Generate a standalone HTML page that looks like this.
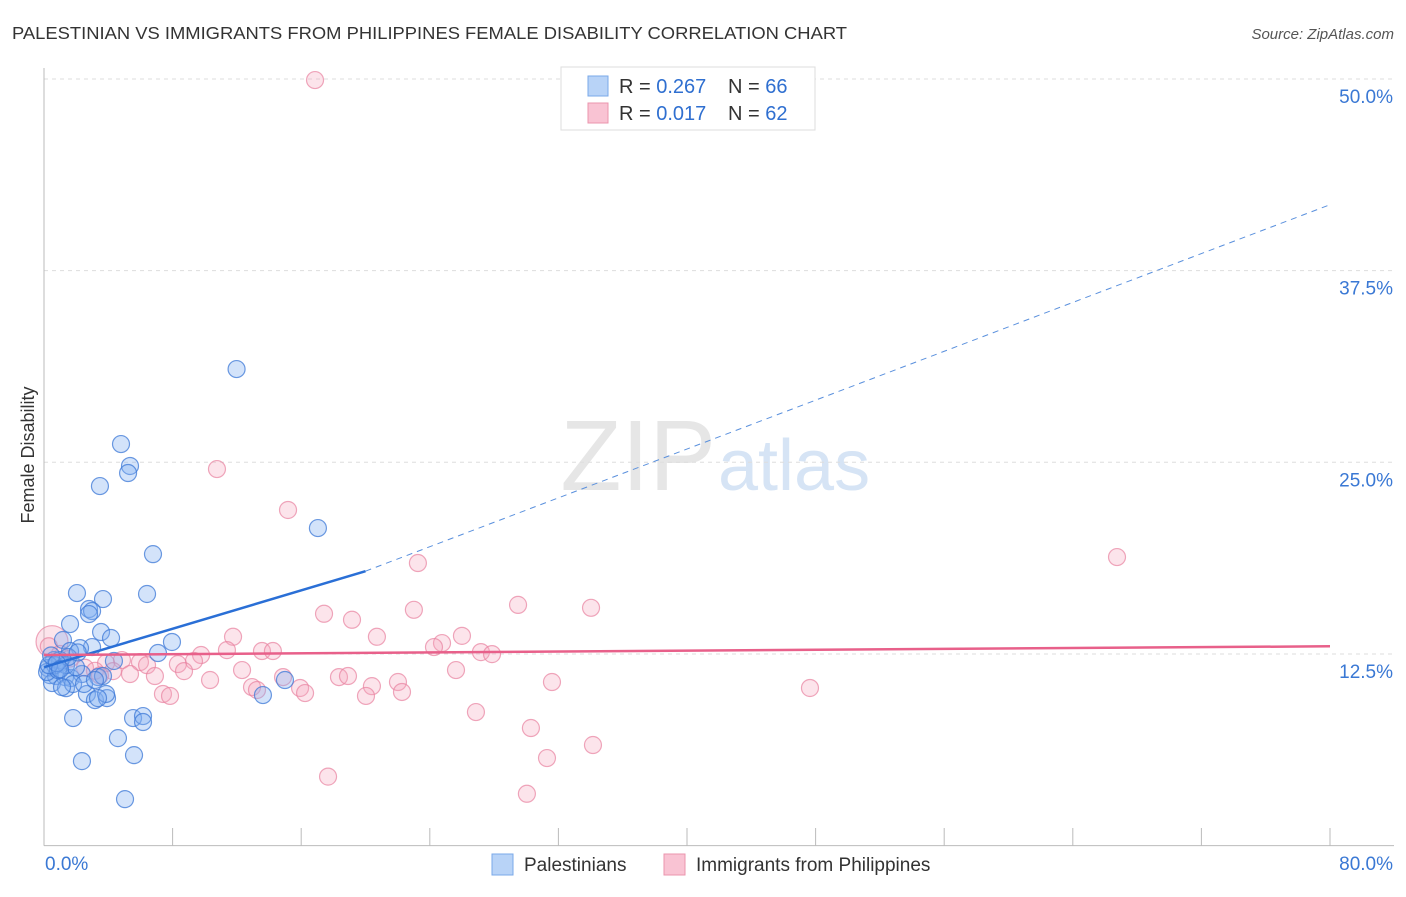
<!DOCTYPE html>
<html><head><meta charset="utf-8"><style>
body{margin:0;background:#fff;font-family:"Liberation Sans",sans-serif;}
svg text{font-family:"Liberation Sans",sans-serif;}
</style></head><body>
<svg id="chart" width="1406" height="892" xmlns="http://www.w3.org/2000/svg">
<text x="12" y="39" font-size="17.5" fill="#333" textLength="835" lengthAdjust="spacingAndGlyphs">PALESTINIAN VS IMMIGRANTS FROM PHILIPPINES FEMALE DISABILITY CORRELATION CHART</text>
<text x="1394" y="39" font-size="15" fill="#555" font-style="italic" text-anchor="end">Source: ZipAtlas.com</text>
<text x="716" y="490" font-size="100" fill="#e6e6e6" text-anchor="end" font-family="Liberation Serif">ZIP</text>
<text x="718" y="490" font-size="72" fill="#d6e4f5">atlas</text>
<text transform="translate(34,455) rotate(-90)" font-size="18" fill="#333" text-anchor="middle">Female Disability</text>
<g id="grid"></g><g id="axes"></g><g id="pts"></g><g id="trend"></g>
<g>
<rect x="561" y="67" width="254" height="63" fill="#fff" stroke="#ddd"/>
<rect x="588" y="76" width="20" height="20" fill="#b8d3f7" stroke="#7aa8e8"/>
<rect x="588" y="103" width="20" height="20" fill="#f9c3d3" stroke="#eb94ae"/>
<text x="619" y="93" font-size="20" fill="#333">R = <tspan fill="#2f6fd0">0.267</tspan></text>
<text x="728" y="93" font-size="20" fill="#333">N = <tspan fill="#2f6fd0">66</tspan></text>
<text x="619" y="120" font-size="20" fill="#333">R = <tspan fill="#2f6fd0">0.017</tspan></text>
<text x="728" y="120" font-size="20" fill="#333">N = <tspan fill="#2f6fd0">62</tspan></text>
</g>
<g>
<rect x="492" y="854" width="21" height="21" fill="#b8d3f7" stroke="#7aa8e8"/>
<text x="524" y="871" font-size="19" fill="#333">Palestinians</text>
<rect x="664" y="854" width="21" height="21" fill="#f9c3d3" stroke="#eb94ae"/>
<text x="696" y="871" font-size="19" fill="#333">Immigrants from Philippines</text>
</g>
</svg>
<script>
const yTicks=[12.5,25,37.5,50];
const yTickLabels=["12.5%","25.0%","37.5%","50.0%"];
const xTicks=[0,8,16,24,32,40,48,56,64,72,80];
const blueX=[11.98,4.79,5.35,5.23,3.48,17.04,6.78,2.05,6.41,3.67,2.8,2.99,2.8,1.62,3.55,4.17,1.18,2.99,7.96,7.09,2.24,1.62,0.62,0.99,0.25,0.37,0.75,1.31,1.68,2.36,3.36,3.67,4.35,0.5,1.37,1.81,2.67,3.17,3.92,3.86,3.36,1.12,13.62,14.99,1.81,5.54,6.16,6.16,4.6,5.6,2.36,5.04,0.99,0.68,0.19,1.37,1.99,0.87,0.31,2.49,3.17,0.44,1.5,2.1,0.8,1.0];
const blueY=[31.08,26.19,24.76,24.3,23.45,20.71,19.01,16.47,16.41,16.08,15.43,15.3,15.1,14.45,13.93,13.54,13.41,12.95,13.28,12.56,12.88,12.69,12.1,11.9,11.58,11.12,11.06,10.99,10.93,11.19,10.99,11.06,12.04,10.6,10.27,10.54,9.89,9.49,9.62,9.89,9.62,10.34,9.82,10.8,8.32,8.32,8.45,8.06,7.01,5.9,5.51,3.03,12.1,11.77,11.32,11.77,11.64,11.45,11.77,10.54,10.8,12.4,12.3,12.6,11.9,11.5];
const pinkX=[16.86,10.76,15.18,23.26,66.75,29.49,34.03,23.01,17.42,19.16,11.76,20.71,26,24.76,24.26,27.18,27.87,13.56,14.24,11.38,9.77,9.33,8.33,8.71,5.97,6.41,4.85,3.86,4.29,5.35,6.9,12.32,14.87,18.35,18.91,22.02,20.4,25.63,31.6,47.65,10.33,12.94,13.25,15.93,16.24,20.03,22.27,7.4,7.84,26.87,30.29,31.29,34.15,17.67,30.04,0.5,0.99,2.55,3.17,1.62,3.48,0.3];
const pinkY=[49.93,24.56,21.89,18.43,18.82,15.7,15.51,15.38,15.12,14.73,13.62,13.62,13.68,13.21,12.95,12.62,12.49,12.69,12.69,12.75,12.43,12.04,11.84,11.38,11.97,11.77,12.1,11.9,11.38,11.19,11.06,11.45,10.99,10.99,11.06,10.67,10.4,11.45,10.67,10.28,10.8,10.34,10.15,10.28,9.95,9.76,10.02,9.89,9.76,8.71,7.67,5.71,6.56,4.5,3.38,13.3,12.5,11.6,11.4,12.2,11.1,13.0];
const blueTrend=[[0,11.64],[20,17.9],[80,41.8]];
const pinkTrend=[[0,12.43],[80,13.0]];
const L=44,R=1330,T=79,B=845.6;
const xs=v=>L+v/80*(R-L);
const ys=v=>B-v/50*(B-T);
const NS="http://www.w3.org/2000/svg";
function mk(parent,tag,attrs){const e=document.createElementNS(NS,tag);for(const k in attrs)e.setAttribute(k,attrs[k]);document.getElementById(parent).appendChild(e);return e;}
yTicks.forEach((t,i)=>{
 const g=mk('grid','line',{x1:L,x2:1394,y1:ys(t),y2:ys(t),stroke:'#ddd','stroke-dasharray':'4,4'});
 
 
 const tx=mk('grid','text',{x:1393,y:ys(t)+24,'font-size':19,fill:'#3a78d4','text-anchor':'end'});
 tx.textContent=yTickLabels[i];
 
 
});
const ax=mk('axes','line',{x1:L,x2:L,y1:68,y2:B,stroke:'#bbb'});


const bx=mk('axes','line',{x1:L,x2:1394,y1:B,y2:B,stroke:'#bbb'});


xTicks.forEach(t=>{
 const tk=mk('axes','line',{x1:xs(t),x2:xs(t),y1:828,y2:B,stroke:'#bbb'});
 
 
});
const x0=mk('axes','text',{x:45,y:870,'font-size':19,fill:'#3a78d4'});x0.textContent='0.0%';


const x1=mk('axes','text',{x:1393,y:870,'font-size':19,fill:'#3a78d4','text-anchor':'end'});x1.textContent='80.0%';


pinkX.forEach((v,i)=>{
 const c=mk('pts','circle',{cx:xs(v),cy:ys(pinkY[i]),r:i==55?16:8.5,fill:'rgba(246,165,190,0.3)',stroke:'rgba(232,130,160,0.7)','stroke-width':1.2});
 
 
});
blueX.forEach((v,i)=>{
 const c=mk('pts','circle',{cx:xs(v),cy:ys(blueY[i]),r:8.5,fill:'rgba(130,175,240,0.35)',stroke:'rgba(60,120,215,0.75)','stroke-width':1.2});
 
 
});
const bs=mk('trend','line',{x1:xs(blueTrend[0][0]),y1:ys(blueTrend[0][1]),x2:xs(blueTrend[1][0]),y2:ys(blueTrend[1][1]),stroke:'#2a6fd6','stroke-width':2.5});


const bd=mk('trend','line',{x1:xs(blueTrend[1][0]),y1:ys(blueTrend[1][1]),x2:xs(blueTrend[2][0]),y2:ys(blueTrend[2][1]),stroke:'#5a90dd','stroke-width':1,'stroke-dasharray':'6,5'});


const pt=mk('trend','line',{x1:xs(pinkTrend[0][0]),y1:ys(pinkTrend[0][1]),x2:xs(pinkTrend[1][0]),y2:ys(pinkTrend[1][1]),stroke:'#e8608a','stroke-width':2.5});


</script>
</body></html>
